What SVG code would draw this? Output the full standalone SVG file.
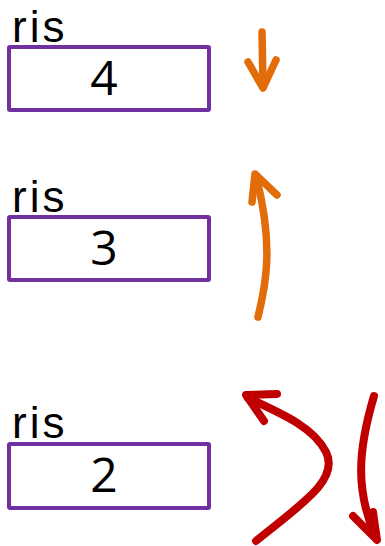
<svg xmlns="http://www.w3.org/2000/svg" width="385" height="546" viewBox="0 0 385 546">
  <style>
    .box { fill: #ffffff; stroke: #7030a0; stroke-width: 4; }
    .lbl { font-family: "Comic Sans MS", "Liberation Sans", "DejaVu Sans", sans-serif; font-size: 44px; letter-spacing: 3px; fill: #000000; }
    .val { font-family: "Comic Sans MS", "Open Sans", "DejaVu Sans", sans-serif; font-size: 48px; fill: #000000; text-anchor: middle; }
    .ora { fill: none; stroke: #e36c0a; stroke-width: 7.5; stroke-linecap: round; stroke-linejoin: round; }
    .red { fill: none; stroke: #c00000; stroke-width: 8; stroke-linecap: round; stroke-linejoin: round; }
  </style>
  <rect width="385" height="546" fill="#ffffff"/>

  <g id="ris4">
    <text class="lbl" x="12" y="42">ris</text>
    <rect class="box" x="9" y="47" width="200" height="63" rx="1"/>
    <text class="val" x="104" y="95">4</text>
  </g>

  <g id="ris3">
    <text class="lbl" x="12" y="212">ris</text>
    <rect class="box" x="9" y="217" width="200" height="63" rx="1"/>
    <text class="val" x="104" y="265">3</text>
  </g>

  <g id="ris2">
    <text class="lbl" x="12" y="438">ris</text>
    <rect class="box" x="9" y="444" width="200" height="64" rx="1"/>
    <text class="val" x="104" y="492">2</text>
  </g>

  <g id="connectors">
    <!-- short orange arrow down -->
    <path class="ora" d="M262,32 L263,86"/>
    <path class="ora" d="M248,62 L263,88 L276,60"/>
    <!-- orange arrow curving up -->
    <path class="ora" d="M258,317 C266,285 274,245 256,176"/>
    <path class="ora" d="M252,202 L255,174 L277,195"/>
    <!-- red arrow returning up-left -->
    <path class="red" d="M256,541 C300,505 340,480 326,452 C314,428 285,415 248,398"/>
    <path class="red" d="M277,394 L246,395 L264,421"/>
    <!-- red arrow going down -->
    <path class="red" d="M374,396 C358,450 355,490 376,538"/>
    <path class="red" d="M353,516 L377,540 L373,512"/>
  </g>
</svg>
